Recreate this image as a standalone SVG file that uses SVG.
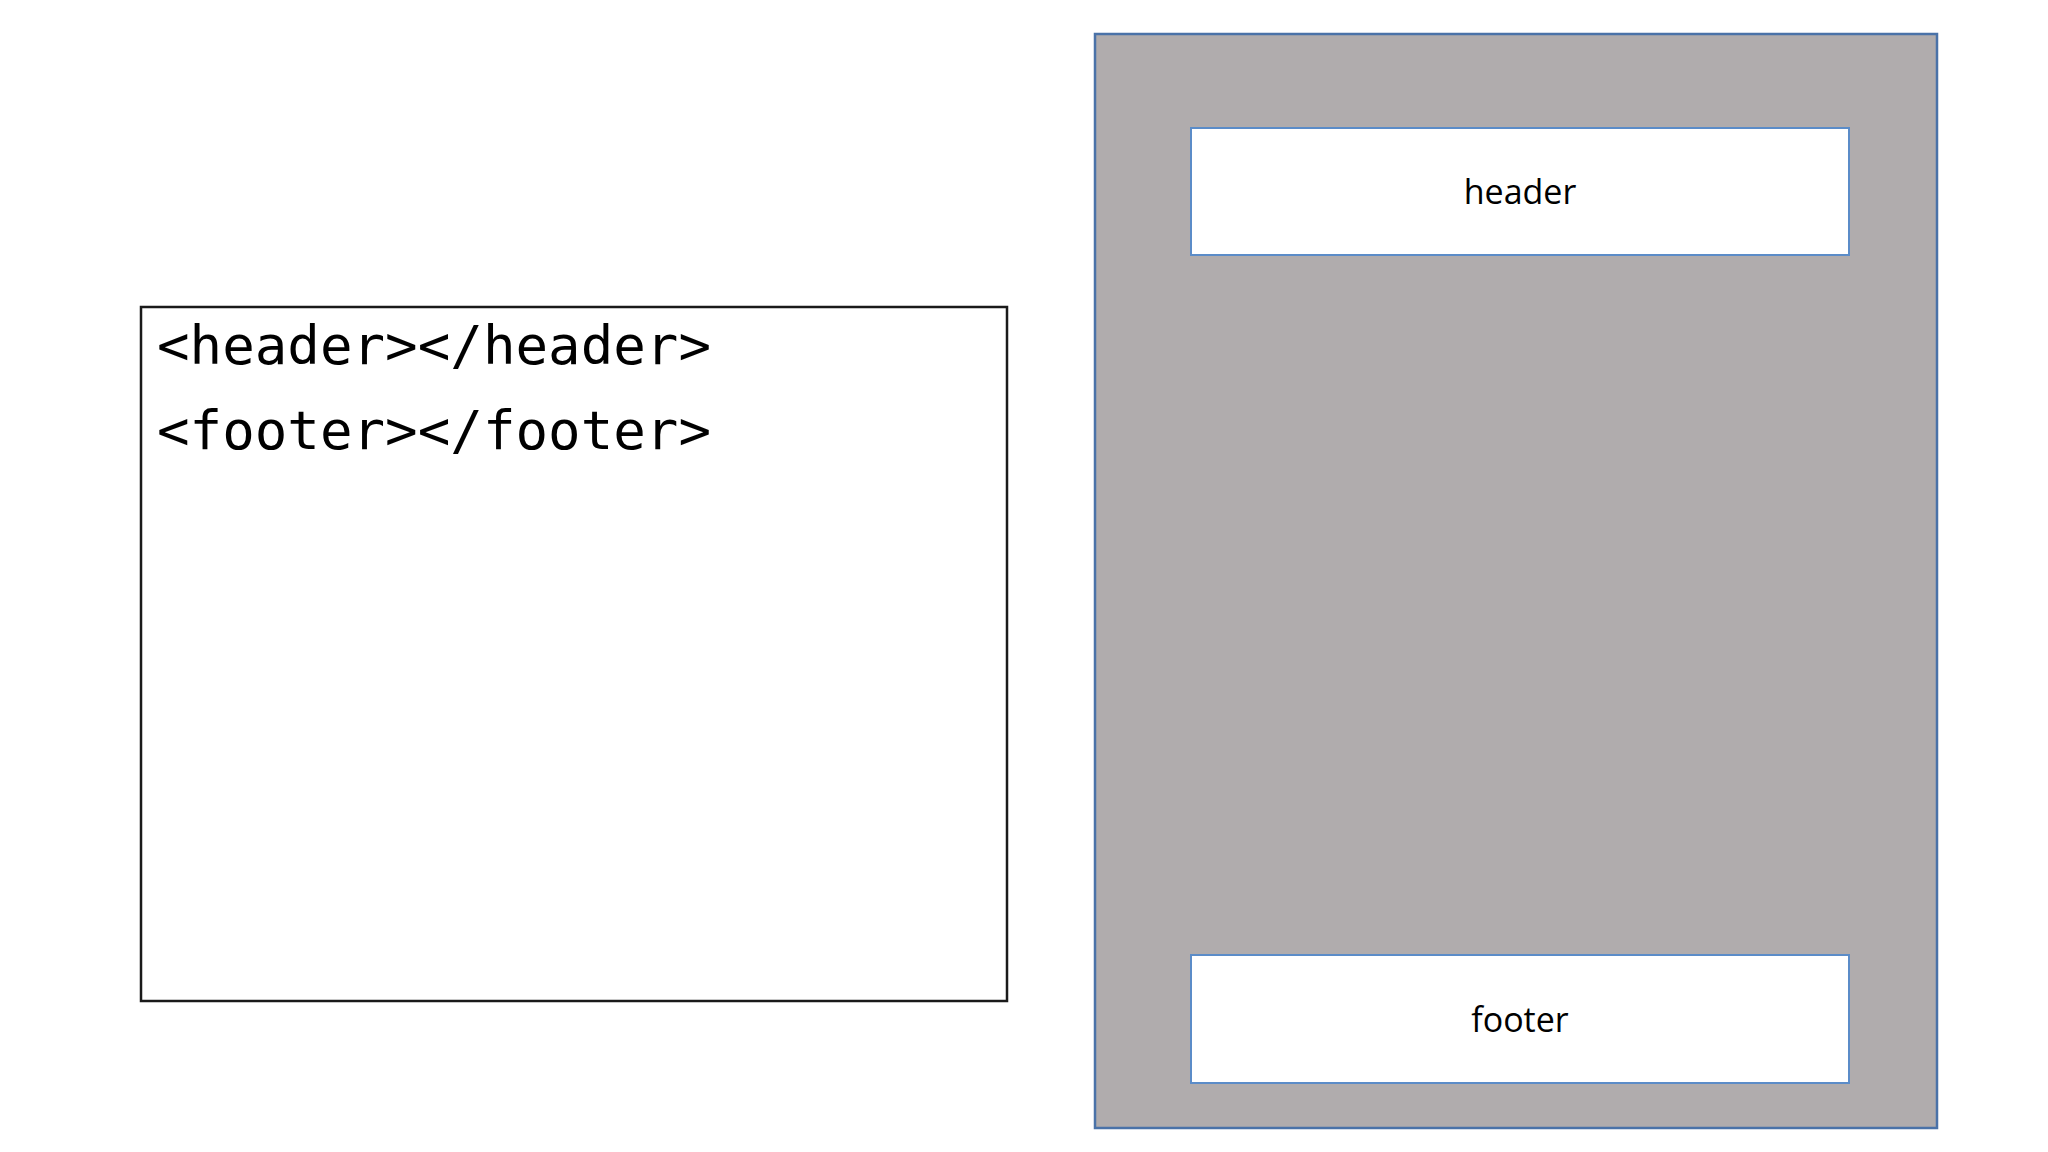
<svg xmlns="http://www.w3.org/2000/svg" width="2048" height="1152" viewBox="0 0 2048 1152">
<style>
.code{font-family:"DejaVu Sans Mono","Liberation Mono",monospace;font-size:54px;fill:#000}
.lbl{font-family:"Open Sans","Noto Sans",sans-serif;font-size:34px;fill:#000;text-anchor:middle}
.inner{fill:#fff;stroke:#5b8cc8;stroke-width:2}
</style>
<rect width="2048" height="1152" fill="#fff"/>
<g id="code-box">
<rect x="141" y="307" width="866" height="694" fill="#fff" stroke="#1a1a1a" stroke-width="2.5"/>
<text class="code" x="157" y="364" textLength="554" lengthAdjust="spacingAndGlyphs">&lt;header&gt;&lt;/header&gt;</text>
<text class="code" x="157" y="449" textLength="554" lengthAdjust="spacingAndGlyphs">&lt;footer&gt;&lt;/footer&gt;</text>
</g>
<g id="page">
<rect x="1095" y="34" width="842" height="1094" fill="#b0acad" stroke="#4a72a8" stroke-width="2.5"/>
</g>
<g id="header">
<rect class="inner" x="1191" y="128" width="658" height="127"/>
<text class="lbl" x="1520" y="204">header</text>
</g>
<g id="footer">
<rect class="inner" x="1191" y="955" width="658" height="128"/>
<text class="lbl" x="1520" y="1032">footer</text>
</g>
<g id="connectors"/>
</svg>
